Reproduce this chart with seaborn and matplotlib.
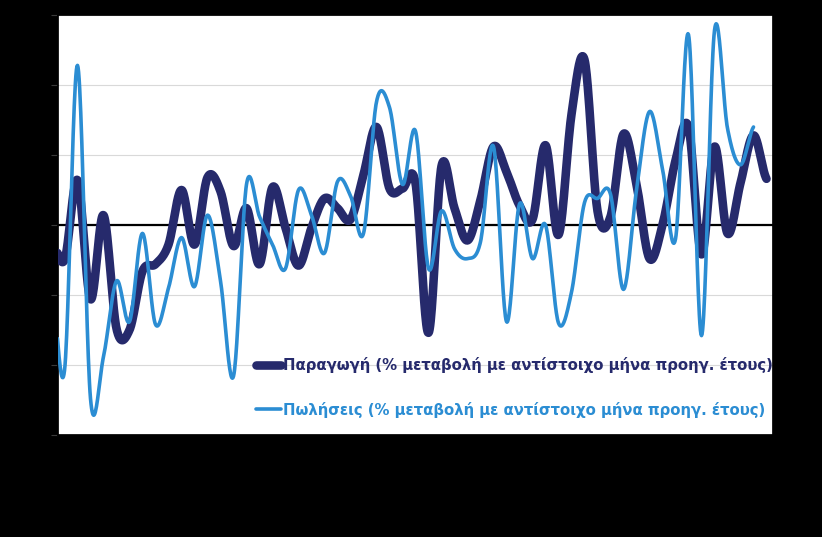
import numpy as np
import matplotlib
matplotlib.use("Agg")
import matplotlib.pyplot as plt
import seaborn as sns

# monthly values, % change vs same month of previous year
# first value sits half a month left of the plot edge (clipped, as in the original)
paragogi = [
    -1.0, -2.5, 3.2, -5.3, 0.7, -7.4, -7.5, -3.3, -2.8, -1.4,
    2.5, -1.4, 3.4, 2.4, -1.5, 1.2, -2.8, 2.7, -0.2, -2.9,
    -0.2, 1.9, 1.2, 0.4, 3.6, 7.0, 2.6, 2.6, 3.0, -7.7,
    4.2, 1.2, -1.1, 1.8, 5.6, 3.8, 1.4, 0.4, 5.7, -0.7,
    7.9, 11.8, 1.0, 0.6, 6.5, 2.9, -2.4, 0.0, 4.6, 7.0,
    -2.1, 5.6, -0.6, 3.0, 6.4, 3.3,
]
poliseis = [
    -4.0, -10.4, 11.4, -12.4, -9.4, -4.0, -6.9, -0.6, -7.1, -4.5,
    -0.9, -4.4, 0.7, -4.0, -10.8, 2.9, 0.6, -1.4, -3.1, 2.5,
    0.7, -2.0, 3.1, 2.1, -0.6, 8.8, 8.4, 2.9, 6.7, -3.1,
    1.0, -1.7, -2.4, -1.2, 5.6, -6.9, 1.5, -2.4, 0.0, -7.0,
    -4.8, 1.6, 1.9, 2.2, -4.6, 2.5, 8.1, 4.0, -1.0, 13.6,
    -7.9, 13.9, 6.9, 4.3, 7.0,
]

label_par = "Παραγωγή (% μεταβολή με αντίστοιχο μήνα προηγ. έτους)"
label_pol = "Πωλήσεις (% μεταβολή με αντίστοιχο μήνα προηγ. έτους)"

col_par = "#262a6c"
col_pol = "#2b8dd3"


def smooth(vals, steps=24):
    # smoothed line like the spreadsheet one (Catmull-Rom through the points)
    y = np.asarray(vals, dtype=float)
    ext = np.r_[y[0], y, y[-1]]
    t = np.linspace(0, 1, steps, endpoint=False)
    xs, ys = [], []
    for i in range(len(y) - 1):
        p0, p1, p2, p3 = ext[i:i + 4]
        m1 = (p2 - p0) / 2
        m2 = (p3 - p1) / 2
        h00 = 2 * t**3 - 3 * t**2 + 1
        h10 = t**3 - 2 * t**2 + t
        h01 = -2 * t**3 + 3 * t**2
        h11 = t**3 - t**2
        ys.append(h00 * p1 + h10 * m1 + h01 * p2 + h11 * m2)
        xs.append(i + t)
    xs.append([len(y) - 1])
    ys.append([y[-1]])
    return np.concatenate(xs) - 1, np.concatenate(ys)


sns.set_theme(style="white")
plt.rcParams['font.family'] = ['DejaVu Sans']

fig = plt.figure(figsize=(8.22, 5.37), dpi=100, facecolor="black")
ax = fig.add_axes([58 / 822, 1 - 435 / 537, 715 / 822, 420 / 537])
ax.set_facecolor("white")

ax.axhline(0, color="black", lw=1.6, zorder=1)

x1, y1 = smooth(paragogi)
sns.lineplot(x=x1, y=y1, ax=ax, color=col_par, lw=6.2, sort=False,
             solid_capstyle="round", label=label_par, zorder=3)
x2, y2 = smooth(poliseis)
sns.lineplot(x=x2, y=y2, ax=ax, color=col_pol, lw=2.6, sort=False,
             solid_capstyle="round", label=label_pol, zorder=4)

ax.set_xlim(-0.5, 54.5)
ax.set_ylim(-15, 15)
ax.set_yticks(np.arange(-15, 16, 5))
ax.set_xticks([])
ax.yaxis.grid(True, color="#d9d9d9", lw=0.8)
ax.xaxis.grid(False)
ax.set_axisbelow(True)
ax.tick_params(axis="y", left=True, length=5, width=0.8, color="#3a3a3a",
               labelleft=False)
for s in ax.spines.values():
    s.set_color("black")
ax.set_xlabel("")
ax.set_ylabel("")

ax.legend(loc="center left", bbox_to_anchor=(0.266, 0.113), frameon=False,
          borderpad=0, handlelength=1.7, handletextpad=0.12, labelspacing=1.9,
          labelcolor="linecolor", prop={"weight": "bold", "size": 10.75})

fig.savefig("out.png", dpi=100, facecolor="black")
